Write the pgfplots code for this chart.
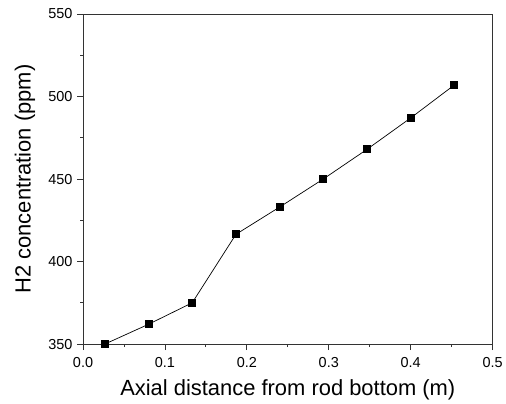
\documentclass[border=0pt]{standalone}
\usepackage{fontspec}
\setmainfont{Liberation Sans}
\usepackage{pgfplots}
\pgfplotsset{compat=1.18}

\begin{document}
\begin{tikzpicture}
\begin{axis}[
    name=ax,
    scale only axis,
    width=409.5bp, height=330bp,
    xmin=0, xmax=0.5, ymin=350, ymax=550,
    xtick={0,0.1,0.2,0.3,0.4,0.5},
    ytick={350,400,450,500,550},
    minor x tick num=1, minor y tick num=1,
    tick align=outside,
    major tick length=6bp, minor tick length=3bp,
    xtick pos=left, ytick pos=left,
    tick style={black!80, line width=0.8bp},
    axis line style={black!80, line width=0.9bp},
    /pgf/number format/assume math mode=true,
    tick label style={font=\fontsize{14.5}{16}\selectfont},
    xticklabel style={yshift=-4bp, /pgf/number format/.cd, fixed, fixed zerofill, precision=1},
    yticklabel style={xshift=-1bp, /pgf/number format/.cd, fixed, precision=0},
    label style={font=\fontsize{22}{25}\selectfont},
    xlabel={Axial distance from rod bottom (m)},
    ylabel={H2 concentration (ppm)},
    xlabel style={at={(axis description cs:0.5,-0.1385)}, anchor=center},
    ylabel style={at={(axis description cs:-0.1416,0.5)}, anchor=center},
    clip=false,
]
\addplot[black, line width=0.7bp, mark=square*, mark size=3.5bp] coordinates {
    (0.0267,350) (0.0800,362) (0.1333,375) (0.1867,416.5) (0.2400,433)
    (0.2933,450) (0.3467,468) (0.4000,487) (0.4533,507)
};
\end{axis}
\path ([shift={(-83bp,-57.7bp)}]ax.south west) rectangle ([shift={(13.4bp,14bp)}]ax.north east);
\end{tikzpicture}
\end{document}
